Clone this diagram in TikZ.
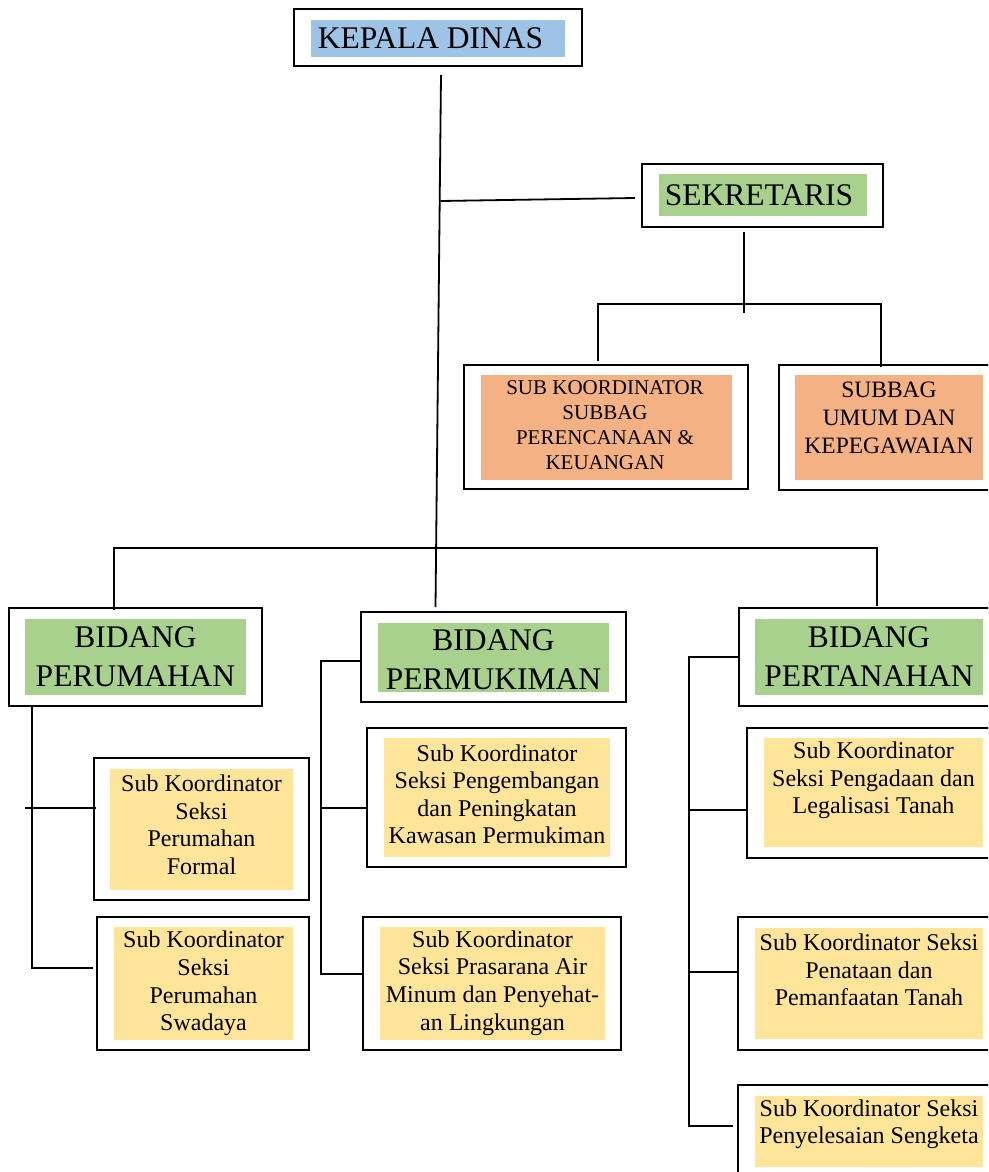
\documentclass[tikz,border=0pt]{standalone}
\usepackage{fontspec}
\setmainfont{Liberation Serif}
\usepackage{tikz}
\usetikzlibrary{positioning}

\definecolor{biru}{RGB}{157,195,230}
\definecolor{hijau}{RGB}{169,209,142}
\definecolor{oranye}{RGB}{244,177,131}
\definecolor{kuning}{RGB}{255,229,153}

\begin{document}
\begin{tikzpicture}[x=1pt,y=-1pt]
  \tikzstyle{luar}=[draw,line width=2pt,inner sep=0pt]
  \tikzstyle{isi}=[inner sep=0pt]
  \tikzstyle{teks}=[align=center,inner sep=0pt]
  \tikzstyle{besar}=[font=\fontsize{31.5}{39}\selectfont]
  \tikzstyle{sedang}=[font=\fontsize{24}{27.5}\selectfont]
  \tikzstyle{kecil}=[font=\fontsize{21}{25}\selectfont]
  \tikzstyle{garis}=[line width=1.8pt]

  \useasboundingbox (0,0) rectangle (988,1172);
  \fill[white] (0,0) rectangle (988,1172);
  \clip (0,0) rectangle (988,1172);

  % pimpinan
  \node[luar,minimum width=288pt,minimum height=57pt] (kadis) at (438,37.5) {};
  \node[isi,fill=biru,minimum width=254pt,minimum height=37pt] (kadis-bg) at (438,38.5) {};
  \node[teks,besar] (kadis-txt) at (430.5,38) {KEPALA DINAS};

  \node[luar,minimum width=241pt,minimum height=63pt] (sekre) at (762.5,195.5) {};
  \node[isi,fill=hijau,minimum width=208pt,minimum height=42pt] (sekre-bg) at (763,195) {};
  \node[teks,besar] (sekre-txt) at (759,195) {SEKRETARIS};

  % subbagian
  \node[luar,minimum width=284pt,minimum height=124pt] (subbag1) at (606,427) {};
  \node[isi,fill=oranye,minimum width=251pt,minimum height=105pt] (subbag1-bg) at (606.5,427.5) {};
  \node[teks,kecil] (subbag1-txt) at (605,425) {SUB KOORDINATOR\\SUBBAG\\PERENCANAAN \&\\KEUANGAN};

  \node[luar,minimum width=221pt,minimum height=125pt] (subbag2) at (889.5,427.5) {};
  \node[isi,fill=oranye,minimum width=188pt,minimum height=105pt] (subbag2-bg) at (889,427.5) {};
  \node[teks,font=\fontsize{23.5}{28}\selectfont] (subbag2-txt) at (889,417.5) {SUBBAG\\UMUM DAN\\KEPEGAWAIAN};

  % bidang
  \node[luar,minimum width=253pt,minimum height=98pt] (bid1) at (135.5,657) {};
  \node[isi,fill=hijau,minimum width=221pt,minimum height=76pt] (bid1-bg) at (135.5,657) {};
  \node[teks,besar] (bid1-txt) at (135.5,656.5) {BIDANG\\PERUMAHAN};

  \node[luar,minimum width=265pt,minimum height=90pt] (bid2) at (493.5,657) {};
  \node[isi,fill=hijau,minimum width=231pt,minimum height=69pt] (bid2-bg) at (493.5,657.5) {};
  \node[teks,besar] (bid2-txt) at (493.5,660) {BIDANG\\PERMUKIMAN};

  \node[luar,minimum width=261pt,minimum height=98pt] (bid3) at (869.5,657) {};
  \node[isi,fill=hijau,minimum width=228pt,minimum height=76pt] (bid3-bg) at (869,657) {};
  \node[teks,besar] (bid3-txt) at (869,656.5) {BIDANG\\PERTANAHAN};

  % seksi perumahan
  \node[luar,minimum width=215pt,minimum height=142pt] (s1) at (201.5,829) {};
  \node[isi,fill=kuning,minimum width=183pt,minimum height=121pt] (s1-bg) at (201.5,829.5) {};
  \node[teks,sedang] (s1-txt) at (201.5,825) {Sub Koordinator\\Seksi\\Perumahan\\Formal};

  \node[luar,minimum width=212pt,minimum height=133pt] (s2) at (203,983.5) {};
  \node[isi,fill=kuning,minimum width=179pt,minimum height=113pt] (s2-bg) at (203.5,983.5) {};
  \node[teks,sedang] (s2-txt) at (203.5,983.5) {Sub Koordinator\\Seksi\\Perumahan\\Swadaya};

  % seksi permukiman
  \node[luar,minimum width=259pt,minimum height=139pt] (s3) at (496.5,797.5) {};
  \node[isi,fill=kuning,minimum width=226pt,minimum height=119pt] (s3-bg) at (497,797.5) {};
  \node[teks,sedang] (s3-txt) at (497,794.5) {Sub Koordinator\\Seksi Pengembangan\\dan Peningkatan\\Kawasan Permukiman};

  \node[luar,minimum width=258pt,minimum height=133pt] (s4) at (492,983.5) {};
  \node[isi,fill=kuning,minimum width=225pt,minimum height=113pt] (s4-bg) at (492.5,983.5) {};
  \node[teks,sedang] (s4-txt) at (492.5,983) {Sub Koordinator\\Seksi Prasarana Air\\Minum dan Penyehat-\\an Lingkungan};

  % seksi pertanahan
  \node[luar,minimum width=253pt,minimum height=130pt] (s5) at (873.5,793) {};
  \node[isi,fill=kuning,minimum width=219pt,minimum height=109pt] (s5-bg) at (873.5,792.5) {};
  \node[teks,sedang] (s5-txt) at (873.5,780.5) {Sub Koordinator\\Seksi Pengadaan dan\\Legalisasi Tanah};

  \node[luar,minimum width=262pt,minimum height=133pt] (s6) at (869,983.5) {};
  \node[isi,fill=kuning,minimum width=228pt,minimum height=111pt] (s6-bg) at (869,983.5) {};
  \node[teks,sedang] (s6-txt) at (869,970) {Sub Koordinator Seksi\\Penataan dan\\Pemanfaatan Tanah};

  \node[luar,minimum width=262pt,minimum height=115pt] (s7) at (869,1142.5) {};
  \node[isi,fill=kuning,minimum width=228pt,minimum height=71pt] (s7-bg) at (869,1131.5) {};
  \node[teks,sedang] (s7-txt) at (869,1124) {Sub Koordinator Seksi\\Penyelesaian Sengketa};

  % garis
  \draw[garis] ([shift={(3,8)}]kadis.south) -- ([shift={(-58,-4)}]bid2.north);
  \coordinate (t1) at (440.5,201);
  \draw[garis] (t1) -- ([shift={(-6,2.5)}]sekre.west);
  \draw[garis] ([shift={(-18.5,4)}]sekre.south) -- ++(0,81);
  \draw[garis] ([shift={(-8,-3)}]subbag1.north) -- ++(0,-57) -| ([shift={(-8.5,3)}]subbag2.north);
  \draw[garis] ([shift={(-21.5,3)}]bid1.north) |- ([shift={(7.5,-59)}]bid3.north) -- ([shift={(7.5,-1)}]bid3.north);

  \draw[garis] ([shift={(-103.5,0)}]bid1.south) |- ([shift={(-3,-15.5)}]s2.west);
  \draw[garis] ([shift={(-68,-21)}]s1.west) -- ([shift={(3,-21)}]s1.west);

  \draw[garis] ([shift={(0,4)}]bid2.west) -- ++(-39,0) |- ([shift={(0,-9.5)}]s4.west);
  \draw[garis] ([shift={(-45,10.5)}]s3.west) -- ([shift={(0,10.5)}]s3.west);

  \draw[garis] (bid3.west) -- ++(-49,0) |- ([shift={(-4,-16.5)}]s7.west);
  \draw[garis] ([shift={(-57,17)}]s5.west) -- ([shift={(0,17)}]s5.west);
  \draw[garis] ([shift={(-48,-11.5)}]s6.west) -- ([shift={(0,-11.5)}]s6.west);
\end{tikzpicture}
\end{document}
